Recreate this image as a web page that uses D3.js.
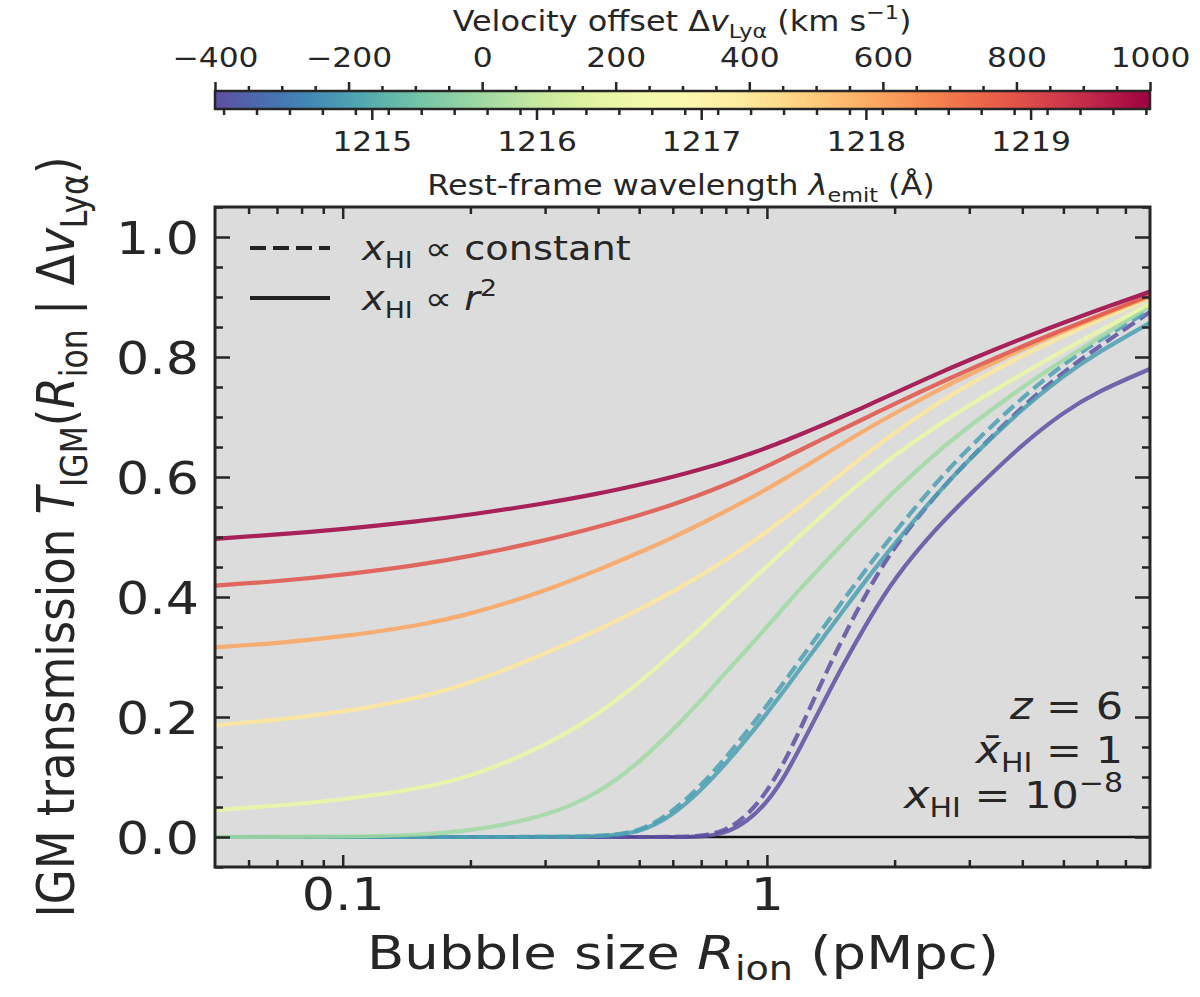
<!DOCTYPE html>
<html lang="en">
<head>
<meta charset="UTF-8">
<title>IGM transmission vs bubble size</title>
<style>
  body { margin: 0; background: #fff; }
  svg { display: block; font-family: "DejaVu Sans", sans-serif; }
  text { fill: #262626; }
</style>
</head>
<body>
<div id="chart"></div>
<script src="https://d3js.org/d3.v7.min.js"></script>
<script>
const width = 1200
const height = 997
const SX = 1.16   // text in the figure is drawn a little wider than normal

// bubble radii (pMpc) where the curves were read
const rIon = [0.05, 0.07, 0.1, 0.15, 0.2, 0.3, 0.4, 0.5, 0.6, 0.7, 0.8, 0.9, 1,
              1.1, 1.2, 1.35, 1.5, 1.75, 2, 2.5, 3, 4, 5, 6, 8]

const velocities = [-400, -200, 0, 200, 400, 600, 800, 1000]

// x_HI ∝ r^2 (solid)
const tDvM400 = [0, 0, 0, 0, 0, 0, 0, 0, 0, 0, 0.006, 0.026, 0.057,
                 0.100, 0.150, 0.220, 0.283, 0.366, 0.432, 0.514, 0.570, 0.655, 0.708, 0.742, 0.780]
const tDvM200 = [0, 0, 0, 0, 0, 0, 0.001, 0.006, 0.036, 0.078, 0.122, 0.165, 0.206,
                 0.245, 0.281, 0.330, 0.374, 0.437, 0.489, 0.570, 0.630, 0.714, 0.769, 0.807, 0.857]
const tDv0 = [0, 0, 0.0005, 0.003, 0.010, 0.033, 0.072, 0.124, 0.178, 0.228, 0.274, 0.314, 0.350,
              0.384, 0.414, 0.453, 0.487, 0.536, 0.577, 0.640, 0.685, 0.750, 0.795, 0.830, 0.885]
const tDv200 = [0.045, 0.052, 0.062, 0.080, 0.100, 0.151, 0.204, 0.257, 0.306, 0.349, 0.387, 0.421, 0.451,
                0.478, 0.503, 0.536, 0.564, 0.604, 0.636, 0.684, 0.720, 0.772, 0.811, 0.841, 0.889]
const tDv400 = [0.186, 0.195, 0.208, 0.231, 0.256, 0.305, 0.345, 0.379, 0.409, 0.436, 0.462, 0.486, 0.509,
                0.531, 0.551, 0.580, 0.606, 0.643, 0.674, 0.721, 0.755, 0.802, 0.835, 0.860, 0.898]
const tDv600 = [0.316, 0.323, 0.334, 0.352, 0.371, 0.410, 0.445, 0.474, 0.499, 0.522, 0.543, 0.562, 0.580,
                0.597, 0.613, 0.635, 0.655, 0.683, 0.706, 0.743, 0.771, 0.813, 0.843, 0.866, 0.901]
const tDv800 = [0.419, 0.426, 0.437, 0.453, 0.468, 0.494, 0.517, 0.536, 0.554, 0.571, 0.587, 0.603, 0.618,
                0.632, 0.645, 0.663, 0.679, 0.702, 0.722, 0.754, 0.779, 0.818, 0.846, 0.868, 0.903]
const tDv1000 = [0.497, 0.504, 0.513, 0.526, 0.537, 0.556, 0.572, 0.587, 0.600, 0.613, 0.625, 0.637, 0.649,
                 0.660, 0.671, 0.686, 0.700, 0.721, 0.740, 0.771, 0.795, 0.831, 0.857, 0.878, 0.909]

// x_HI ∝ constant (dashed), only visibly different for the two bluest offsets
const tDvM400Const = [0, 0, 0, 0, 0, 0, 0, 0, 0, 0.001, 0.010, 0.036, 0.075,
                      0.125, 0.180, 0.260, 0.328, 0.418, 0.485, 0.570, 0.630, 0.718, 0.775, 0.815, 0.875]
const tDvM200Const = [0, 0, 0, 0, 0, 0, 0.001, 0.007, 0.042, 0.086, 0.132, 0.177, 0.219,
                      0.259, 0.296, 0.346, 0.391, 0.455, 0.508, 0.590, 0.650, 0.733, 0.788, 0.826, 0.878]

const solidT = [tDvM400, tDvM200, tDv0, tDv200, tDv400, tDv600, tDv800, tDv1000]
const dashedT = { '-400': tDvM400Const, '-200': tDvM200Const }

const velTicks = [-400, -200, 0, 200, 400, 600, 800, 1000]
const lamTicks = [1215, 1216, 1217, 1218, 1219]
const yTicks = [0, 0.2, 0.4, 0.6, 0.8, 1.0]
const xTicks = [0.1, 1]
const xTickLabels = ['0.1', '1']

const lyaRest = 1215.67
const cLight = 299792.458

// layout
const plot = { left: 215, right: 1150, top: 207, bottom: 867 }
const cbar = { top: 91, bottom: 109 }
const ink = '#262626'

// drawing order: bluest first, dashed right after its solid twin
const series = []
velocities.forEach((v, i) => {
    series.push({ v, t: solidT[i], dash: null })
    if (dashedT[v]) series.push({ v, t: dashedT[v], dash: '14,6' })
})

const svg = d3.select('#chart').append('svg')
    .attr('width', width)
    .attr('height', height)

const x = d3.scaleLog().domain([0.05, 8]).range([plot.left, plot.right])
const y = d3.scaleLinear().domain([-0.05, 1.05]).range([plot.bottom, plot.top])
const color = d3.scaleSequential(t => d3.interpolateSpectral(1 - t)).domain([-400, 1000])

// text with italic / sub / sup pieces, stretched horizontally like the figure
function richText(parent, parts, size, px, py, anchor, rotate) {
    const t = parent.append('text')
        .attr('font-size', size)
        .attr('text-anchor', anchor || 'start')
        .attr('transform', `translate(${px},${py}) scale(${SX},1)` + (rotate ? ` rotate(${rotate})` : ''))
    let shift = 0
    parts.forEach(([str, kind]) => {
        kind = kind || ''
        const ts = t.append('tspan').text(str)
        const target = kind === 'sub' ? 0.24 * size : kind === 'sup' ? -0.42 * size : 0
        if (target !== shift) { ts.attr('dy', target - shift); shift = target }
        if (kind === 'sub' || kind === 'sup') ts.attr('font-size', size * 0.7)
        if (kind === 'i') ts.attr('font-style', 'italic')
    })
    return t
}

function stretchLabels(g) {
    g.selectAll('.tick text').each(function () {
        const t = d3.select(this)
        const tx = +t.attr('x') || 0
        const ty = +t.attr('y') || 0
        t.attr('x', null).attr('y', null)
            .attr('transform', `translate(${tx},${ty}) scale(${SX},1)`)
    })
}

function styleAxis(g) {
    g.select('.domain').remove()
    g.selectAll('.tick line').attr('stroke', ink).attr('stroke-width', 2.5)
    g.selectAll('.tick text').attr('fill', ink)
}

// ---- colour bar ----
const grad = svg.append('defs').append('linearGradient').attr('id', 'cbarGrad')
d3.range(0, 1.0001, 0.05).forEach(f => {
    grad.append('stop').attr('offset', f).attr('stop-color', color(-400 + f * 1400))
})
svg.append('rect')
    .attr('x', plot.left).attr('y', cbar.top)
    .attr('width', plot.right - plot.left).attr('height', cbar.bottom - cbar.top)
    .attr('fill', 'url(#cbarGrad)')

const vScale = d3.scaleLinear().domain([-400, 1000]).range([plot.left, plot.right])
const lScale = d3.scaleLinear()
    .domain([lyaRest * (1 - 400 / cLight), lyaRest * (1 + 1000 / cLight)])
    .range([plot.left, plot.right])

const vMinor = d3.range(-400, 1001, 50).filter(v => v % 200 !== 0)
svg.append('g').attr('transform', `translate(0,${cbar.top})`)
    .call(d3.axisTop(vScale).tickValues(vMinor).tickSize(5).tickFormat(''))
    .call(styleAxis)
svg.append('g').attr('transform', `translate(0,${cbar.top})`)
    .call(d3.axisTop(vScale).tickValues(velTicks).tickSize(9).tickPadding(15)
        .tickFormat(d => d < 0 ? '\u2212' + Math.abs(d) : String(d)))
    .call(styleAxis)
    .call(stretchLabels)
    .selectAll('text').attr('font-size', 27).attr('font-family', 'DejaVu Sans')

const lMinor = d3.range(12141, 12198, 2).map(d => d / 10).filter(d => Math.round(d * 10) % 10 !== 0)
svg.append('g').attr('transform', `translate(0,${cbar.bottom})`)
    .call(d3.axisBottom(lScale).tickValues(lMinor).tickSize(6).tickFormat(''))
    .call(styleAxis)
svg.append('g').attr('transform', `translate(0,${cbar.bottom})`)
    .call(d3.axisBottom(lScale).tickValues(lamTicks).tickSize(11).tickPadding(12).tickFormat(d3.format('d')))
    .call(styleAxis)
    .call(stretchLabels)
    .selectAll('text').attr('font-size', 27).attr('font-family', 'DejaVu Sans')

svg.append('rect')
    .attr('x', plot.left).attr('y', cbar.top)
    .attr('width', plot.right - plot.left).attr('height', cbar.bottom - cbar.top)
    .attr('fill', 'none').attr('stroke', ink).attr('stroke-width', 2.5)

richText(svg, [['Velocity offset \u0394'], ['v', 'i'], ['Ly\u03b1', 'sub'], [' (km s'], ['\u22121', 'sup'], [')']],
    27.5, 682, 31, 'middle')
richText(svg, [['Rest-frame wavelength '], ['\u03bb', 'i'], ['emit', 'sub'], [' (\u00c5)']],
    27.5, 681, 195, 'middle')

// ---- main panel ----
svg.append('rect')
    .attr('x', plot.left).attr('y', plot.top)
    .attr('width', plot.right - plot.left).attr('height', plot.bottom - plot.top)
    .attr('fill', '#dcdcdc')

svg.append('clipPath').attr('id', 'plotClip').append('rect')
    .attr('x', plot.left).attr('y', plot.top)
    .attr('width', plot.right - plot.left).attr('height', plot.bottom - plot.top)

const curves = svg.append('g').attr('clip-path', 'url(#plotClip)')

curves.append('line')
    .attr('x1', x(0.05)).attr('x2', x(8))
    .attr('y1', y(0)).attr('y2', y(0))
    .attr('stroke', '#111').attr('stroke-width', 2.5)

const line = d3.line()
    .x(d => x(d[0]))
    .y(d => y(d[1]))
    .curve(d3.curveBasis)

curves.selectAll('path.curve')
    .data(series)
    .join('path')
    .attr('class', 'curve')
    .attr('d', s => line(rIon.map((r, i) => [r, s.t[i]])))
    .attr('fill', 'none')
    .attr('stroke', s => color(s.v))
    .attr('stroke-opacity', 0.85)
    .attr('stroke-width', 4.2)
    .attr('stroke-dasharray', s => s.dash)

// ticks, all pointing inwards
const xMinor = [0.06, 0.07, 0.08, 0.09, 0.2, 0.3, 0.4, 0.5, 0.6, 0.7, 0.8, 0.9, 2, 3, 4, 5, 6, 7]
const yMinor = d3.range(-1, 22).filter(i => i % 4 !== 0).map(i => i * 0.05)

svg.append('g').attr('transform', `translate(0,${plot.bottom})`)
    .call(d3.axisBottom(x).tickValues(xMinor).tickSize(-7).tickFormat(''))
    .call(styleAxis)
svg.append('g').attr('transform', `translate(0,${plot.bottom})`)
    .call(d3.axisBottom(x).tickValues(xTicks).tickSize(-12).tickPadding(11)
        .tickFormat((d, i) => xTickLabels[i]))
    .call(styleAxis)
    .call(stretchLabels)
    .selectAll('text').attr('font-size', 45).attr('font-family', 'DejaVu Sans')

svg.append('g').attr('transform', `translate(0,${plot.top})`)
    .call(d3.axisTop(x).tickValues(xMinor).tickSize(-7).tickFormat(''))
    .call(styleAxis)
svg.append('g').attr('transform', `translate(0,${plot.top})`)
    .call(d3.axisTop(x).tickValues(xTicks).tickSize(-12).tickFormat(''))
    .call(styleAxis)

svg.append('g').attr('transform', `translate(${plot.left},0)`)
    .call(d3.axisLeft(y).tickValues(yMinor).tickSize(-8).tickFormat(''))
    .call(styleAxis)
svg.append('g').attr('transform', `translate(${plot.left},0)`)
    .call(d3.axisLeft(y).tickValues(yTicks).tickSize(-15).tickPadding(16).tickFormat(d3.format('.1f')))
    .call(styleAxis)
    .call(stretchLabels)
    .selectAll('text').attr('font-size', 45).attr('font-family', 'DejaVu Sans').attr('dy', '0.36em')

svg.append('g').attr('transform', `translate(${plot.right},0)`)
    .call(d3.axisRight(y).tickValues(yMinor).tickSize(-8).tickFormat(''))
    .call(styleAxis)
svg.append('g').attr('transform', `translate(${plot.right},0)`)
    .call(d3.axisRight(y).tickValues(yTicks).tickSize(-15).tickFormat(''))
    .call(styleAxis)

svg.append('rect')
    .attr('x', plot.left).attr('y', plot.top)
    .attr('width', plot.right - plot.left).attr('height', plot.bottom - plot.top)
    .attr('fill', 'none').attr('stroke', ink).attr('stroke-width', 3)

// axis titles
richText(svg, [['Bubble size '], ['R', 'i'], ['ion', 'sub'], [' (pMpc)']], 47, 683, 969, 'middle')
richText(svg, [['IGM transmission '], ['T', 'i'], ['IGM', 'sub'], ['('], ['R', 'i'], ['ion', 'sub'],
    [' | \u0394'], ['v', 'i'], ['Ly\u03b1', 'sub'], [')']], 45, 74, 537, 'middle', -90)

// legend
const legend = [
    { dash: '16,7', parts: [['x', 'i'], ['HI', 'sub'], [' \u221d constant']] },
    { dash: null, parts: [['x', 'i'], ['HI', 'sub'], [' \u221d '], ['r', 'i'], ['2', 'sup']] }
]
legend.forEach((d, i) => {
    const ly = 248 + i * 50
    svg.append('line')
        .attr('x1', 250).attr('x2', 330).attr('y1', ly).attr('y2', ly)
        .attr('stroke', '#222').attr('stroke-width', 4)
        .attr('stroke-dasharray', d.dash)
    richText(svg, d.parts, 33, 362, ly + 12, 'start')
})

// parameters
richText(svg, [['z', 'i'], [' = 6']], 37, 1123, 719, 'end')
richText(svg, [['x\u0304', 'i'], ['HI', 'sub'], [' = 1']], 37, 1123, 763, 'end')
richText(svg, [['x', 'i'], ['HI', 'sub'], [' = 10'], ['\u22128', 'sup']], 37, 1123, 808, 'end')
</script>
</body>
</html>
